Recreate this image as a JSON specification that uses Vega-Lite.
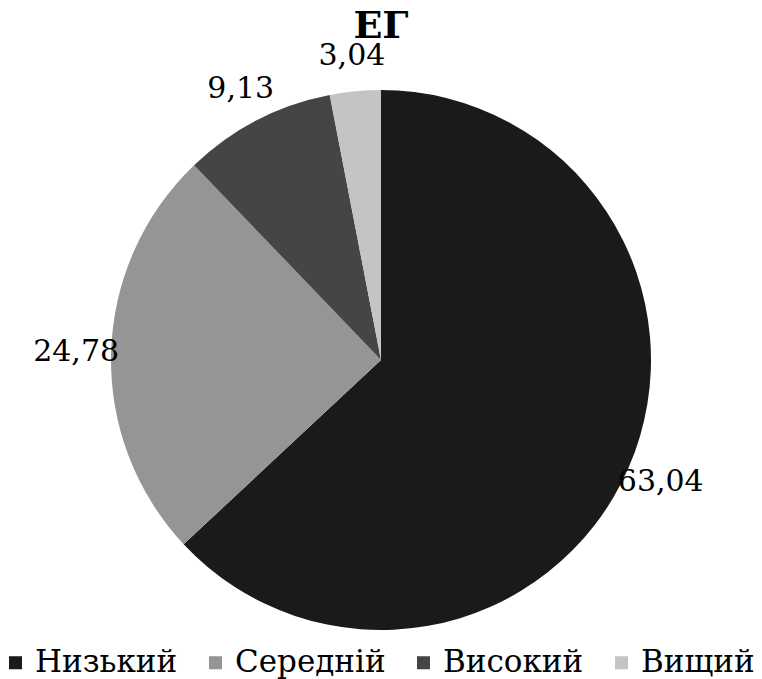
{
  "$schema": "https://vega.github.io/schema/vega-lite/v6.json",
  "width": 762,
  "height": 558,
  "autosize": {"type": "none"},
  "padding": {"top": 81, "left": 0, "right": 0, "bottom": 40},
  "background": "white",
  "title": {
    "text": "ЕГ",
    "font": "DejaVu Serif",
    "fontSize": 38,
    "fontWeight": "bold",
    "color": "black",
    "anchor": "middle",
    "offset": 0,
    "dy": 5
  },
  "data": {
    "values": [
      {"category": "Низький", "value": 63.04, "label": "63,04"},
      {"category": "Середній", "value": 24.78, "label": "24,78"},
      {"category": "Високий", "value": 9.13, "label": "9,13"},
      {"category": "Вищий", "value": 3.04, "label": "3,04"}
    ]
  },
  "encoding": {
    "theta": {"field": "value", "type": "quantitative", "stack": true},
    "order": {"field": "value", "type": "quantitative", "sort": "descending"}
  },
  "layer": [
    {
      "mark": {"type": "arc", "outerRadius": 270, "stroke": null},
      "encoding": {
        "color": {
          "field": "category",
          "type": "nominal",
          "sort": ["Низький", "Середній", "Високий", "Вищий"],
          "scale": {
            "domain": ["Низький", "Середній", "Високий", "Вищий"],
            "range": ["#1a1a1a", "#959595", "#454545", "#c4c4c4"]
          },
          "legend": {
            "title": null,
            "orient": "bottom",
            "direction": "horizontal",
            "labelFont": "DejaVu Serif",
            "labelFontSize": 31,
            "labelColor": "black",
            "symbolType": "square",
            "symbolSize": 170,
            "symbolStrokeWidth": 0,
            "columnPadding": 22,
            "labelOffset": 4,
            "offset": 8,
            "labelLimit": 400
          }
        }
      }
    },
    {
      "mark": {
        "type": "text",
        "radius": 305,
        "font": "DejaVu Serif",
        "fontSize": 30,
        "color": "black",
        "align": "center",
        "baseline": "middle"
      },
      "encoding": {
        "text": {"field": "label", "type": "nominal"}
      }
    }
  ]
}
